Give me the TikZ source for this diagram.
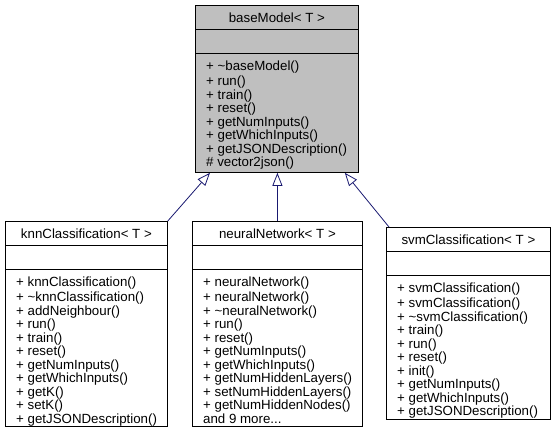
\documentclass[tikz,border=0pt]{standalone}
\usepackage{fontspec}
\setmainfont{Liberation Sans}
\usetikzlibrary{arrows.meta,calc}
\definecolor{inhblue}{HTML}{191970}
\definecolor{basegray}{HTML}{BFBFBF}

\begin{document}
\begin{tikzpicture}[x=1pt,y=-1pt,
  cls/.style={draw=black,line width=0.8pt,rectangle,inner sep=0pt,anchor=north west},
  ttl/.style={inner sep=0pt,font=\fontsize{13.3}{13.55}\selectfont},
  mth/.style={anchor=north west,inner sep=0pt,align=left,font=\fontsize{13.3}{13.55}\selectfont},
  inh/.style={draw=inhblue,line width=0.8pt,-{Triangle[open,length=13pt,width=10pt]}}]
\useasboundingbox (0,0) rectangle (554,432);

% базовый класс
\node [cls,fill=basegray,minimum width=163pt,minimum height=167pt] (base) at (195,5) {};
\draw ([yshift=-24pt]base.north west) -- ([yshift=-24pt]base.north east);
\draw ([yshift=-48pt]base.north west) -- ([yshift=-48pt]base.north east);
\node [ttl] (baset) at ($(base.north)+(0,12.5)$) {baseModel< T >};
\node [mth] (basem) at ($(base.north west)+(11,56)$) {\strut+ \textasciitilde baseModel()\\+ run()\\+ train()\\+ reset()\\+ getNumInputs()\\+ getWhichInputs()\\+ getJSONDescription()\\\# vector2json()};

% knn
\node [cls,minimum width=162pt,minimum height=205pt] (knn) at (5,221) {};
\draw ([yshift=-24pt]knn.north west) -- ([yshift=-24pt]knn.north east);
\draw ([yshift=-48pt]knn.north west) -- ([yshift=-48pt]knn.north east);
\node [ttl] (knnt) at ($(knn.north)+(0,12.5)$) {knnClassification< T >};
\node [mth] (knnm) at ($(knn.north west)+(11,56)$) {\strut+ knnClassification()\\+ \textasciitilde knnClassification()\\+ addNeighbour()\\+ run()\\+ train()\\+ reset()\\+ getNumInputs()\\+ getWhichInputs()\\+ getK()\\+ setK()\\+ getJSONDescription()};

% нейросеть
\node [cls,minimum width=170pt,minimum height=205pt] (neural) at (192,221) {};
\draw ([yshift=-24pt]neural.north west) -- ([yshift=-24pt]neural.north east);
\draw ([yshift=-48pt]neural.north west) -- ([yshift=-48pt]neural.north east);
\node [ttl] (neuralt) at ($(neural.north)+(0,12.5)$) {neuralNetwork< T >};
\node [mth] (neuralm) at ($(neural.north west)+(11,56)$) {\strut+ neuralNetwork()\\+ neuralNetwork()\\+ \textasciitilde neuralNetwork()\\+ run()\\+ reset()\\+ getNumInputs()\\+ getWhichInputs()\\+ getNumHiddenLayers()\\+ setNumHiddenLayers()\\+ getNumHiddenNodes()\\and 9 more...};

% svm
\node [cls,minimum width=164pt,minimum height=192pt] (svm) at (386,227) {};
\draw ([yshift=-24pt]svm.north west) -- ([yshift=-24pt]svm.north east);
\draw ([yshift=-48pt]svm.north west) -- ([yshift=-48pt]svm.north east);
\node [ttl] (svmt) at ($(svm.north)+(0,12.5)$) {svmClassification< T >};
\node [mth] (svmm) at ($(svm.north west)+(11,56)$) {\strut+ svmClassification()\\+ svmClassification()\\+ \textasciitilde svmClassification()\\+ train()\\+ run()\\+ reset()\\+ init()\\+ getNumInputs()\\+ getWhichInputs()\\+ getJSONDescription()};

% наследование
\draw [inh] (knn.north east) -- ([xshift=15pt]base.south west);
\draw [inh] (neural.north) -- (neural.north |- base.south);
\draw [inh] ([xshift=3pt]svm.north west) -- ([xshift=-14pt]base.south east);
\end{tikzpicture}
\end{document}
